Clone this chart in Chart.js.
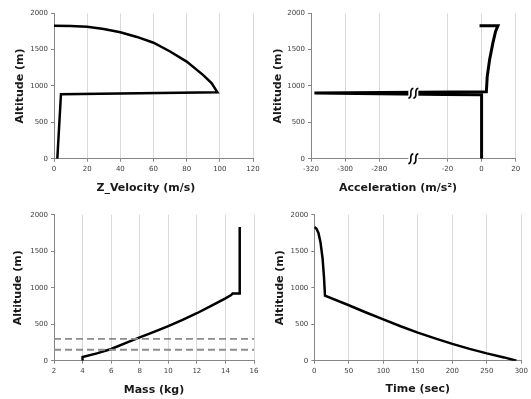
<!DOCTYPE html>
<html>
<head>
<meta charset="utf-8">
<script src="https://cdn.jsdelivr.net/npm/chart.js@4.4.1/dist/chart.umd.min.js"></script>
<style>
  html, body { margin: 0; padding: 0; background: #fff; }
  #charts { position: relative; width: 531px; height: 399px; overflow: hidden; }
  #charts canvas { position: absolute; }
</style>
</head>
<body>
<div id="charts">
  <canvas id="velChart" width="265" height="200" style="left:0;top:0"></canvas>
  <canvas id="accChart" width="266" height="200" style="left:265px;top:0"></canvas>
  <canvas id="massChart" width="265" height="199" style="left:0;top:200px"></canvas>
  <canvas id="timeChart" width="266" height="199" style="left:265px;top:200px"></canvas>
</div>
<script>
// --- data ---
const ALT_MIN = 0;
const ALT_MAX = 2000;
const ALT_STEP = 500;

const VELOCITY = [0, 10, 20, 30, 40, 50, 60, 70, 80, 90, 95, 98.5, 4.2, 2];
const VELOCITY_ALT = [1830, 1826, 1815, 1785, 1740, 1675, 1595, 1475, 1335, 1150, 1040, 915, 886, 0];

const ACCEL = [-1.2, 9.6, 8.2, 6.6, 4.7, 3.3, 2.8, -318, -22, 0, 0];
const ACCEL_ALT = [1830, 1830, 1750, 1590, 1360, 1130, 920, 905, 882, 878, 0];
const ACCEL_TICK_LABELS = ['-320', '-300', '-280', '', '-20', '0', '20'];
const ACCEL_BREAK = [-260, -40]; // range cut out of the axis
const BREAK_ALTS = [900, 0];

const MASS = [15, 15, 14.5, 14.4, 14, 13, 12, 11, 10, 9, 8, 7, 6, 5, 4, 4];
const MASS_ALT = [1830, 920, 920, 900, 855, 750, 650, 560, 475, 395, 320, 240, 160, 100, 50, 0];
const DASH_LEVELS = [300, 150];

const TIME = [0, 3, 6, 9, 12, 14, 15.5, 50, 75, 100, 125, 150, 175, 200, 225, 250, 275, 293];
const TIME_ALT = [1830, 1810, 1750, 1620, 1400, 1150, 890, 760, 660, 565, 472, 385, 305, 230, 162, 100, 45, 0];

// --- styling ---
const TICK_FONT = { family: 'DejaVu Sans', size: 7 };
const TITLE_FONT = { family: 'DejaVu Sans', size: 11, weight: 'bold' };
const TICK_COLOR = '#404040';
const TITLE_COLOR = '#1a1a1a';
const AXIS_COLOR = '#868686';
const GRID_COLOR = '#d9d9d9';

// accel axis is squeezed: -320..-260 | -40..20, one slot per 20 m/s²
const ACC_STEP = 20;
const ACC_MIN = -320;
const BREAK_SLOT = (ACCEL_BREAK[0] - ACC_MIN) / ACC_STEP;
const accelToAxis = a => a <= ACCEL_BREAK[0]
    ? (a - ACC_MIN) / ACC_STEP
    : (a - ACCEL_BREAK[1]) / ACC_STEP + BREAK_SLOT;

const toPoints = (xs, ys, fx = v => v) => xs.map((v, i) => ({ x: fx(v), y: ys[i] }));

const curve = (xs, ys, width = 2.5, fx) => ({
    data: toPoints(xs, ys, fx),
    showLine: true,
    borderColor: '#000',
    borderWidth: width,
    pointRadius: 0
});

const axisBreak = {
    id: 'axisBreak',
    afterDatasetsDraw(chart) {
        const { ctx, scales: { x, y } } = chart;
        const px = x.getPixelForValue(BREAK_SLOT);
        BREAK_ALTS.forEach(alt => {
            const py = y.getPixelForValue(alt);
            ctx.save();
            ctx.fillStyle = '#fff';
            ctx.fillRect(px - 5, py - 3, 10, 6);
            ctx.strokeStyle = '#000';
            ctx.lineWidth = 1.6;
            [-2.5, 2.5].forEach(dx => {
                ctx.beginPath();
                ctx.moveTo(px + dx + 2.5, py - 5);
                ctx.bezierCurveTo(px + dx - 3, py - 4, px + dx + 3, py + 4, px + dx - 2.5, py + 5);
                ctx.stroke();
            });
            ctx.restore();
        });
    }
};

const buildChart = (canvasId, panel) => {
    const { area, x, datasets, yTitlePad, xTitlePad, plugins = [] } = panel;
    const canvas = document.getElementById(canvasId);
    const hideAt = x.hideGridAt;
    const hidden = c => hideAt !== undefined && c.tick && c.tick.value === hideAt;
    // trailing blanks nudge the centred title left, as in the original
    const xTitle = x.title + ' '.repeat(x.shift || 0);
    return new Chart(canvas, {
        type: 'scatter',
        data: { datasets },
        options: {
            responsive: false,
            animation: false,
            layout: { padding: { top: area.top, right: canvas.width - area.right, left: 0, bottom: 0 } },
            plugins: { legend: { display: false }, tooltip: { enabled: false } },
            elements: { line: { tension: 0, borderJoinStyle: 'miter' } },
            scales: {
                x: {
                    type: 'linear',
                    min: x.min,
                    max: x.max,
                    ticks: { stepSize: x.step, autoSkip: false, maxRotation: 0, padding: 3, font: TICK_FONT, color: TICK_COLOR, callback: x.label || (v => v) },
                    grid: {
                        color: c => hidden(c) ? 'rgba(0,0,0,0)' : GRID_COLOR,
                        tickColor: c => hidden(c) ? 'rgba(0,0,0,0)' : AXIS_COLOR,
                        tickLength: 3
                    },
                    border: { color: AXIS_COLOR },
                    title: { display: true, text: xTitle, font: TITLE_FONT, color: TITLE_COLOR, padding: { top: 0, bottom: xTitlePad } },
                    afterFit: s => { s.height = canvas.height - area.bottom; }
                },
                y: {
                    type: 'linear',
                    min: ALT_MIN,
                    max: ALT_MAX,
                    ticks: { stepSize: ALT_STEP, padding: 3, font: TICK_FONT, color: TICK_COLOR, callback: v => v },
                    grid: { drawOnChartArea: false, tickColor: AXIS_COLOR, tickLength: 3 },
                    border: { color: AXIS_COLOR },
                    title: { display: true, text: 'Altitude (m)', font: TITLE_FONT, color: TITLE_COLOR, padding: { top: yTitlePad, bottom: 0 } },
                    afterFit: s => { s.width = area.left; }
                }
            }
        },
        plugins
    });
};

buildChart('velChart', {
    area: { left: 54, right: 253, top: 13.3, bottom: 158.7 },
    x: { min: 0, max: 120, step: 20, title: 'Z_Velocity (m/s)', shift: 4 },
    xTitlePad: 5.4,
    yTitlePad: 13.4,
    datasets: [curve(VELOCITY, VELOCITY_ALT)]
});

buildChart('accChart', {
    area: { left: 46, right: 250.7, top: 13.3, bottom: 158.7 },
    x: { min: 0, max: ACCEL_TICK_LABELS.length - 1, step: 1, title: 'Acceleration (m/s²)', shift: 8,
         label: v => ACCEL_TICK_LABELS[v], hideGridAt: BREAK_SLOT },
    xTitlePad: 5.4,
    yTitlePad: 6.7,
    datasets: [curve(ACCEL, ACCEL_ALT, 3, accelToAxis)],
    plugins: [axisBreak]
});

buildChart('massChart', {
    area: { left: 54, right: 254, top: 14.7, bottom: 160.7 },
    x: { min: 2, max: 16, step: 2, title: 'Mass (kg)' },
    xTitlePad: 2.4,
    yTitlePad: 11.4,
    datasets: [
        ...DASH_LEVELS.map(level => ({
            data: [{ x: 2, y: level }, { x: 16, y: level }],
            showLine: true,
            borderColor: '#8c8c8c',
            borderWidth: 1.8,
            borderDash: [7, 4],
            pointRadius: 0
        })),
        curve(MASS, MASS_ALT)
    ]
});

buildChart('timeChart', {
    area: { left: 49.3, right: 256.7, top: 14.7, bottom: 160.7 },
    x: { min: 0, max: 300, step: 50, title: 'Time (sec)' },
    xTitlePad: 3.1,
    yTitlePad: 8.4,
    datasets: [curve(TIME, TIME_ALT)]
});
</script>
</body>
</html>
